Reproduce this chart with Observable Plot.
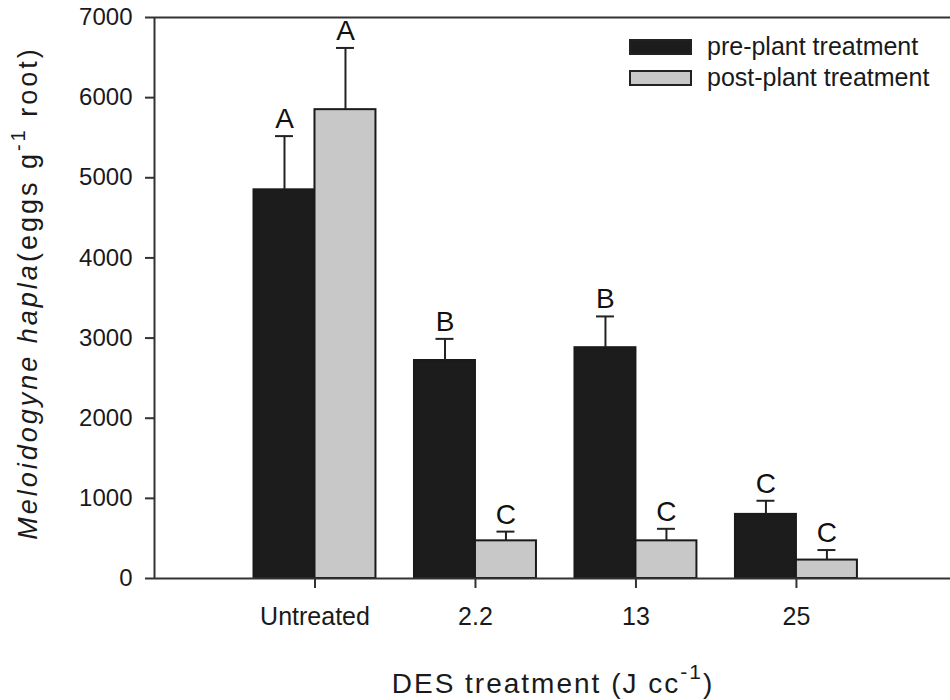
<!DOCTYPE html>
<html>
<head>
<meta charset="utf-8">
<script src="https://cdn.jsdelivr.net/npm/d3@7"></script>
<script src="https://cdn.jsdelivr.net/npm/@observablehq/plot@0.6"></script>
<style>
  html, body { margin: 0; padding: 0; background: #fff; }
  #wrap { position: relative; width: 950px; height: 700px; font-family: "Liberation Sans", Arial, sans-serif; }
  .legend { position: absolute; left: 629px; top: 31px; font-size: 25px; color: #1a1a1a; }
  .legend .row { display: flex; align-items: center; height: 31px; }
  .legend .sw { width: 63px; height: 16px; box-sizing: border-box; border: 2px solid #222; margin-right: 15px; }
</style>
</head>
<body>
<div id="wrap"></div>
<script>
const categories = ["Untreated", "2.2", "13", "25"];
const prePlant = [4850, 2720, 2880, 800];
const prePlantSE = [670, 270, 390, 170];
const postPlant = [5850, 470, 470, 230];
const postPlantSE = [770, 115, 150, 125];
const preLetters = ["A", "B", "B", "C"];
const postLetters = ["A", "C", "C", "C"];
const yTicks = [0, 1000, 2000, 3000, 4000, 5000, 6000, 7000];
const seriesNames = ["pre-plant treatment", "post-plant treatment"];
const seriesFill = ["#1c1c1c", "#c8c8c8"];

const half = 0.38;   // bar width in category units
const capHalf = 0.056;

const rows = [];
categories.forEach((c, k) => {
  rows.push({cat: c, i: k + 1, s: 0, value: prePlant[k], se: prePlantSE[k], letter: preLetters[k]});
  rows.push({cat: c, i: k + 1, s: 1, value: postPlant[k], se: postPlantSE[k], letter: postLetters[k]});
});
const bx1 = d => d.s === 0 ? d.i - half : d.i;
const bx2 = d => d.s === 0 ? d.i : d.i + half;
const bcx = d => d.s === 0 ? d.i - half / 2 : d.i + half / 2;
const errTop = d => d.value + d.se;

const plot = Plot.plot({
  width: 950,
  height: 700,
  marginLeft: 154,
  marginRight: 0,
  marginTop: 17,
  marginBottom: 122,
  style: {fontFamily: "'Liberation Sans', Arial, sans-serif", fontSize: "24px", color: "#1a1a1a", background: "#fff"},
  x: {domain: [0, 4.96], label: null},
  y: {domain: [0, 7000], label: null},
  marks: [
    Plot.axisX({ticks: [1, 2, 3, 4], tickFormat: v => categories[v - 1], tickSize: 10, tickPadding: 19, strokeWidth: 2, stroke: "#333", label: null, fontSize: 25}),
    Plot.axisY({ticks: yTicks, tickFormat: d => String(d), tickSize: 9, tickPadding: 13, strokeWidth: 2, stroke: "#333", label: null, fontSize: 24}),
    Plot.rectY(rows, {x1: bx1, x2: bx2, y1: 0, y2: "value", fill: d => seriesFill[d.s], stroke: "#1a1a1a", strokeWidth: 2}),
    Plot.ruleX(rows, {x: bcx, y1: "value", y2: errTop, stroke: "#222", strokeWidth: 2}),
    Plot.ruleY(rows, {y: errTop, x1: d => bcx(d) - capHalf, x2: d => bcx(d) + capHalf, stroke: "#222", strokeWidth: 2}),
    Plot.text(rows, {x: bcx, y: errTop, text: "letter", dy: -8, lineAnchor: "bottom", fontSize: 28, fill: "#111"}),
    Plot.ruleY([0], {stroke: "#333", strokeWidth: 2}),
    Plot.ruleY([7000], {stroke: "#333", strokeWidth: 2}),
    Plot.ruleX([0], {stroke: "#333", strokeWidth: 2})
  ]
});

const wrap = document.getElementById("wrap");
wrap.appendChild(plot);

// axis titles with italic and superscripts
const svg = d3.select(plot);
const yt = svg.append("text")
  .attr("transform", "translate(37,293) rotate(-90)")
  .attr("text-anchor", "middle")
  .attr("font-size", 27)
  .attr("letter-spacing", "3px")
  .attr("fill", "#1a1a1a");
yt.append("tspan").attr("font-style", "italic").text("Meloidogyne hapla");
yt.append("tspan").text("(eggs g");
yt.append("tspan").attr("font-size", 20).attr("dy", -12).text("-1");
yt.append("tspan").attr("dy", 12).text(" root)");

const xt = svg.append("text")
  .attr("x", 553).attr("y", 693)
  .attr("text-anchor", "middle")
  .attr("font-size", 28)
  .attr("letter-spacing", "2px")
  .attr("fill", "#1a1a1a");
xt.append("tspan").text("DES treatment (J cc");
xt.append("tspan").attr("font-size", 21).attr("dy", -14).text("-1");
xt.append("tspan").attr("dy", 14).text(")");

// legend
const lg = document.createElement("div");
lg.className = "legend";
seriesNames.forEach((n, k) => {
  const r = document.createElement("div");
  r.className = "row";
  const sw = document.createElement("div");
  sw.className = "sw";
  sw.style.background = seriesFill[k];
  const t = document.createElement("span");
  t.textContent = n;
  r.appendChild(sw); r.appendChild(t);
  lg.appendChild(r);
});
wrap.appendChild(lg);
</script>
</body>
</html>
